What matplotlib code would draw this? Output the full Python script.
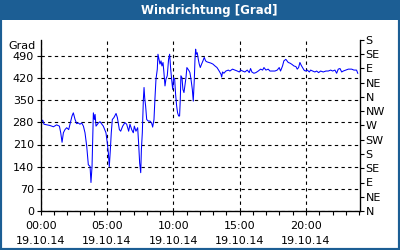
import matplotlib
matplotlib.use("Agg")
import matplotlib.pyplot as plt
from matplotlib.patches import Rectangle
from matplotlib.ticker import MultipleLocator, FixedLocator

# ---- data (hours since 00:00 on 19.10.14, wind direction in degrees, unwrapped) ----
hours = [0.0, 0.15, 0.25, 0.7, 0.96, 1.2, 1.41, 1.51, 1.61, 1.71, 1.83, 1.96, 2.11, 2.21,
         2.36, 2.46, 2.59, 2.71, 2.84, 2.96, 3.09, 3.22, 3.34, 3.47, 3.59, 3.72, 3.79, 3.87,
         3.97, 4.05, 4.1, 4.17, 4.35, 4.47, 4.72, 4.92, 5.02, 5.1, 5.17, 5.25, 5.32, 5.4,
         5.52, 5.68, 5.78, 5.93, 6.03, 6.18, 6.35, 6.48, 6.63, 6.73, 6.86, 6.98, 7.06, 7.18,
         7.31, 7.38, 7.46, 7.54, 7.59, 7.66, 7.74, 7.79, 7.84, 7.91, 7.99, 8.11, 8.24, 8.36,
         8.44, 8.54, 8.61, 8.69, 8.79, 8.84, 8.92, 8.99, 9.07, 9.14, 9.22, 9.29, 9.37, 9.44,
         9.54, 9.64, 9.72, 9.8, 9.87, 9.95, 10.02, 10.1, 10.17, 10.25, 10.32, 10.4, 10.47,
         10.52, 10.57, 10.65, 10.72, 10.8, 10.87, 10.95, 11.02, 11.1, 11.18, 11.25, 11.33,
         11.43, 11.5, 11.58, 11.63, 11.68, 11.73, 11.8, 11.88, 11.95, 12.03, 12.13, 12.23,
         12.33, 12.43, 12.53, 12.68, 12.83, 12.98, 13.14, 13.29, 13.44, 13.59, 13.64, 13.71,
         13.81, 13.96, 14.14, 14.26, 14.46, 14.64, 14.82, 14.97, 15.07, 15.22, 15.39, 15.57,
         15.72, 15.82, 15.92, 16.07, 16.22, 16.4, 16.58, 16.73, 16.83, 16.98, 17.15, 17.28,
         17.48, 17.66, 17.83, 17.98, 18.08, 18.23, 18.33, 18.48, 18.66, 18.79, 18.94, 19.09,
         19.24, 19.34, 19.44, 19.54, 19.64, 19.74, 19.85, 19.95, 20.1, 20.25, 20.35, 20.5,
         20.67, 20.8, 20.95, 21.1, 21.3, 21.5, 21.68, 21.86, 22.01, 22.18, 22.31, 22.43,
         22.56, 22.69, 22.81, 23.01, 23.19, 23.44, 23.61, 23.81, 23.9]
direction = [278, 287, 274, 270, 266, 272, 268, 247, 217, 247, 257, 263, 257, 274,
             300, 310, 289, 276, 278, 274, 278, 268, 247, 204, 146, 141, 90, 141,
             310, 289, 305, 268, 278, 282, 268, 247, 215, 183, 140, 193, 247, 289,
             295, 308, 295, 257, 252, 268, 279, 274, 252, 274, 257, 247, 268, 252,
             263, 215, 151, 121, 193, 247, 353, 390, 357, 331, 289, 284, 284, 278,
             265, 289, 353, 416, 448, 495, 479, 464, 474, 458, 469, 437, 395, 416,
             427, 479, 495, 448, 416, 384, 421, 416, 368, 331, 310, 300, 300,
             350, 427, 421, 384, 374, 395, 421, 453, 448, 443, 437, 416,
             384, 347, 416, 479, 511, 495, 500, 479, 464, 453, 464, 474,
             485, 474, 471, 469, 467, 464, 458, 453, 443, 432, 423, 439,
             435, 442, 445, 442, 448, 445, 442, 439, 445, 442, 439, 445,
             437, 450, 439, 435, 437, 442, 448, 445, 453, 445, 448, 442,
             442, 442, 445, 453, 442, 458, 474, 479, 469, 467, 463, 458,
             456, 448, 453, 469, 460, 453, 445, 442, 445, 439, 445, 442,
             439, 442, 437, 442, 439, 442, 442, 445, 442, 445, 435, 448,
             450, 439, 442, 445, 448, 448, 445, 445, 435]

left_ticks = [0, 70, 140, 210, 280, 350, 420, 490]
right_ticks = [0, 45, 90, 135, 180, 225, 270, 315, 360, 405, 450, 495, 540]
right_labels = ["N", "NE", "E", "SE", "S", "SW", "W", "NW", "N", "NE", "E", "SE", "S"]
x_ticks = [0, 5, 10, 15, 20]
x_labels = ["00:00\n19.10.14", "05:00\n19.10.14", "10:00\n19.10.14",
            "15:00\n19.10.14", "20:00\n19.10.14"]
title = "Windrichtung [Grad]"
unit = "Grad"

BLUE = "#1c5e94"
W, H = 400, 250

fig = plt.figure(figsize=(4, 2.5), dpi=100)
fig.patch.set_facecolor("white")
# border and title bar
fig.patches.append(Rectangle((0, 0), 1, 1, transform=fig.transFigure,
                             fill=False, edgecolor=BLUE, linewidth=3, zorder=0))
fig.patches.append(Rectangle((0, 1 - 20 / H), 1, 20 / H, transform=fig.transFigure,
                             facecolor=BLUE, edgecolor="none", zorder=1))
fig.text(209 / W, 1 - 10.5 / H, title, color="white", fontsize=8.5,
         fontweight="bold", ha="center", va="center")

ax = fig.add_axes([40.7 / W, (H - 211) / H, (360 - 40.7) / W, 171 / H])
ax.plot(hours, direction, color="#0000ff", linewidth=0.75)
ax.set_xlim(0, 24.07)
ax.set_ylim(0, 540)

ax.xaxis.set_major_locator(FixedLocator(x_ticks))
ax.set_xticklabels(x_labels)
ax.xaxis.set_minor_locator(MultipleLocator(1))
ax.yaxis.set_major_locator(FixedLocator(left_ticks))
ax.set_yticklabels([str(v) for v in left_ticks])

ax.tick_params(axis="both", which="major", labelsize=8, length=3, width=0.8,
               direction="out", color="black", pad=2)
ax.tick_params(axis="x", which="minor", length=3, width=0.8, direction="out")
ax.tick_params(axis="x", which="major", pad=4)
for lab in ax.get_xticklabels():
    lab.set_linespacing(1.6)

ax.grid(True, which="major", color="black", linestyle=(0, (3, 3)), linewidth=0.8)
ax.spines["top"].set_visible(False)
for s in ("left", "right", "bottom"):
    ax.spines[s].set_linewidth(0.9)

ax2 = ax.twinx()
ax2.set_ylim(0, 540)
ax2.yaxis.set_major_locator(FixedLocator(right_ticks))
ax2.set_yticklabels(right_labels)
ax2.tick_params(axis="y", labelsize=8, length=3, width=0.8, direction="out", pad=1)
ax2.spines["top"].set_visible(False)

ax.text(-0.015, (211 - 45.7) / 171, unit, transform=ax.transAxes, ha="right",
        va="center", fontsize=8)

fig.savefig("out.png", dpi=100)
